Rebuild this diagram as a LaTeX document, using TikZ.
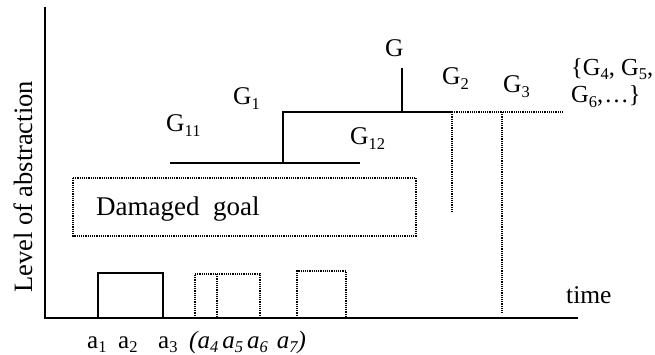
\documentclass[tikz,border=0pt]{standalone}
\usepackage{fontspec}
\setmainfont{Liberation Serif}
\newcommand\lsub[1]{\raisebox{-0.18em}{\fontsize{16.5}{16.5}\selectfont #1}}
\begin{document}
\begin{tikzpicture}[x=1pt,y=-1pt,
  lbl/.style={inner sep=0pt,anchor=base west,font=\fontsize{25.5}{28}\selectfont},
  albl/.style={lbl,font=\fontsize{25}{28}\selectfont},
  axisline/.style={line width=2.4pt},
  solidline/.style={line width=2pt},
  dotline/.style={line width=1.6pt,dash pattern=on 1.2pt off 1pt}]
\useasboundingbox (0,0) rectangle (655,355);
% axes
\coordinate (ytop) at (45,7);
\coordinate (orig) at (45,318);
\coordinate (xend) at (578,318);
\draw[axisline] (ytop) -- (orig) -- (xend);
\node[inner sep=0pt,rotate=90,font=\fontsize{26.5}{28}\selectfont] (ylab) at (23,187) {Level of abstraction};
\node[lbl] (time) at (566,303) {time};
% goal tree
\coordinate (g11l) at (170,163.5);
\coordinate (g1b) at (283,163.5);
\coordinate (g12r) at (360,163.5);
\coordinate (g1t) at (283,112);
\coordinate (gb) at (402,112);
\coordinate (gt) at (402,68);
\coordinate (g2) at (452,112);
\coordinate (g3) at (502,112);
\coordinate (gend) at (563,112);
\coordinate (g2b) at (452,213);
\coordinate (g3b) at (502,313);
\draw[solidline] (g11l) -- (g12r);
\draw[solidline] (g1b) -- (g1t) -- (g2);
\draw[solidline] (gb) -- (gt);
\draw[dotline] (g2) -- (gend);
\draw[dotline] (g2) -- (g2b);
\draw[dotline] (g3) -- (g3b);
\node[lbl] (G) at (385,57) {G};
\node[lbl] (G1) at (233,105) {G\lsub{1}};
\node[lbl] (G11) at (166,132) {G\lsub{11}};
\node[lbl] (G12) at (350,145) {G\lsub{12}};
\node[lbl] (G2) at (442,85) {G\lsub{2}};
\node[lbl] (G3) at (503,93) {G\lsub{3}};
\node[lbl,align=left,font=\fontsize{24.5}{27.5}\selectfont] (Gr) at (571,103) {\{G\lsub{4}, G\lsub{5},\\G\lsub{6},\kern1pt\ldots\}};
% damaged goal
\draw[dotline] (73,178) rectangle (416,236);
\node[lbl,font=\fontsize{27}{30}\selectfont] (dg) at (96,216) {Damaged\ \ goal};
% action boxes
\draw[solidline] (98,318) -- (98,273) -- (163,273) -- (163,318);
\draw[dotline] (195,318) -- (195,274) -- (260,274) -- (260,318);
\draw[dotline] (217,274) -- (217,318);
\draw[dotline] (297,318) -- (297,271) -- (346,271) -- (346,318);
% action labels
\node[albl] (a1) at (87,348) {a\lsub{1}};
\node[albl] (a2) at (118,348) {a\lsub{2}};
\node[albl] (a3) at (158,348) {a\lsub{3}};
\node[albl,font=\fontsize{25}{28}\selectfont\itshape] (a47) at (189,348) {(a\lsub{4}\hspace{4pt}a\lsub{5}\hspace{4pt}a\lsub{6}\hspace{9pt}a\lsub{7})};
\end{tikzpicture}
\end{document}
